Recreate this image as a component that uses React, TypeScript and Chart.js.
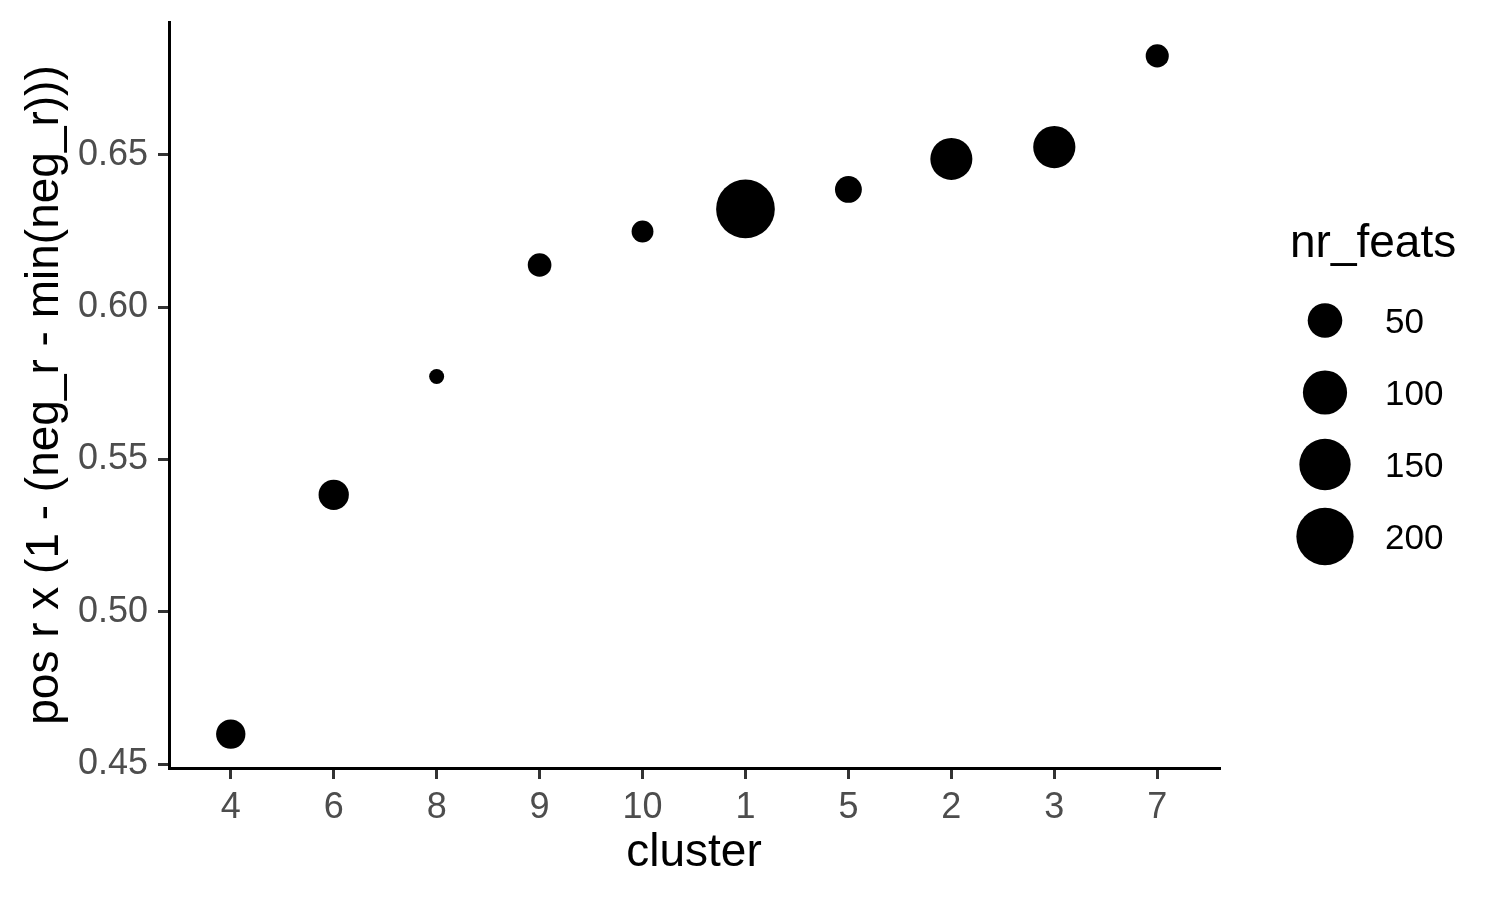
import React, { useEffect, useRef } from "react";
import { Chart, registerables } from "chart.js";

Chart.register(...registerables);

// ---- data ----
const clusters = ["4", "6", "8", "9", "10", "1", "5", "2", "3", "7"];
const scoreValues = [0.4599, 0.5384, 0.5772, 0.6138, 0.6248, 0.6322, 0.6386, 0.6486, 0.6525, 0.6824];
const nrFeats = [31, 34, 9, 17, 14, 213, 24, 87, 88, 16];
const yTickValues = [0.45, 0.5, 0.55, 0.6, 0.65];
const legendBreaks = [50, 100, 150, 200];

const xTitle = "cluster";
const yTitle = "pos r x (1 - (neg_r - min(neg_r)))";
const legendTitle = "nr_feats";

const FONT = "'Liberation Sans', Arial, Helvetica, sans-serif";

const minF = Math.min(...nrFeats);
const maxF = Math.max(...nrFeats);
const sizeRadius = (v: number) =>
  (15 + 43.7 * Math.sqrt(Math.max(0, (v - minF) / (maxF - minF)))) / 2;

const yLo = Math.min(...scoreValues);
const yHi = Math.max(...scoreValues);
const yPad = (yHi - yLo) * 0.05;

const overlayPlugin = {
  id: "ggOverlay",
  afterDraw(chart: any) {
    const ctx = chart.ctx as CanvasRenderingContext2D;
    const area = chart.chartArea;
    ctx.save();
    ctx.fillStyle = "#000";
    // axis titles
    ctx.font = `46px ${FONT}`;
    ctx.textAlign = "center";
    ctx.textBaseline = "alphabetic";
    ctx.fillText(xTitle, (area.left + area.right) / 2, 866);
    ctx.save();
    ctx.translate(57.5, (area.top + area.bottom) / 2);
    ctx.rotate(-Math.PI / 2);
    ctx.fillText(yTitle, 0, 0);
    ctx.restore();
    // size legend
    ctx.textAlign = "left";
    ctx.font = `46px ${FONT}`;
    ctx.fillText(legendTitle, 1290, 257);
    ctx.font = `35px ${FONT}`;
    legendBreaks.forEach((b, i) => {
      const cy = 320.5 + i * 72;
      ctx.beginPath();
      ctx.arc(1325, cy, sizeRadius(b), 0, Math.PI * 2);
      ctx.fill();
      ctx.fillText(String(b), 1385, cy + 12.5);
    });
    ctx.restore();
  },
};

export default function App() {
  const ref = useRef<HTMLCanvasElement | null>(null);

  useEffect(() => {
    if (!ref.current) return;
    const tickGrid = {
      drawOnChartArea: false,
      tickLength: 11,
      color: "#333333",
      lineWidth: 3,
    };
    const border = { display: true, color: "#000000", width: 3 };
    const chart = new Chart(ref.current, {
      type: "bubble",
      data: {
        datasets: [
          {
            data: clusters.map((_, i) => ({
              x: i,
              y: scoreValues[i],
              r: sizeRadius(nrFeats[i]),
            })),
            backgroundColor: "#000000",
            borderWidth: 0,
            hoverBorderWidth: 0,
            hoverRadius: 0,
          } as any,
        ],
      },
      options: {
        responsive: false,
        animation: false,
        events: [],
        layout: {
          autoPadding: false,
          padding: { top: 22, right: 281, left: 0, bottom: 0 },
        },
        plugins: { legend: { display: false }, tooltip: { enabled: false } },
        scales: {
          x: {
            type: "linear",
            min: -0.6,
            max: clusters.length - 1 + 0.6,
            afterBuildTicks: (s: any) => {
              s.ticks = clusters.map((_, i) => ({ value: i }));
            },
            afterFit: (s: any) => {
              s.height = 132;
              s.paddingLeft = 0;
              s.paddingRight = 0;
              s.paddingTop = 0;
              s.paddingBottom = 0;
            },
            ticks: {
              callback: (v: any) => clusters[Math.round(Number(v))],
              color: "#4D4D4D",
              font: { family: FONT, size: 36 },
              padding: 7,
              maxRotation: 0,
              autoSkip: false,
            },
            grid: tickGrid,
            border,
          },
          y: {
            type: "linear",
            min: yLo - yPad,
            max: yHi + yPad,
            afterBuildTicks: (s: any) => {
              s.ticks = yTickValues.map((v) => ({ value: v }));
            },
            afterFit: (s: any) => {
              s.width = 169;
              s.paddingLeft = 0;
              s.paddingRight = 0;
              s.paddingTop = 0;
              s.paddingBottom = 0;
            },
            ticks: {
              callback: (v: any) => Number(v).toFixed(2),
              color: "#4D4D4D",
              font: { family: FONT, size: 36 },
              padding: 10,
            },
            grid: tickGrid,
            border,
          },
        },
      } as any,
      plugins: [overlayPlugin],
    });
    return () => chart.destroy();
  }, []);

  return (
    <div
      style={{
        position: "absolute",
        left: 0,
        top: 0,
        width: 1500,
        height: 900,
        background: "#ffffff",
      }}
    >
      <canvas ref={ref} width={1500} height={900} style={{ display: "block" }} />
    </div>
  );
}
